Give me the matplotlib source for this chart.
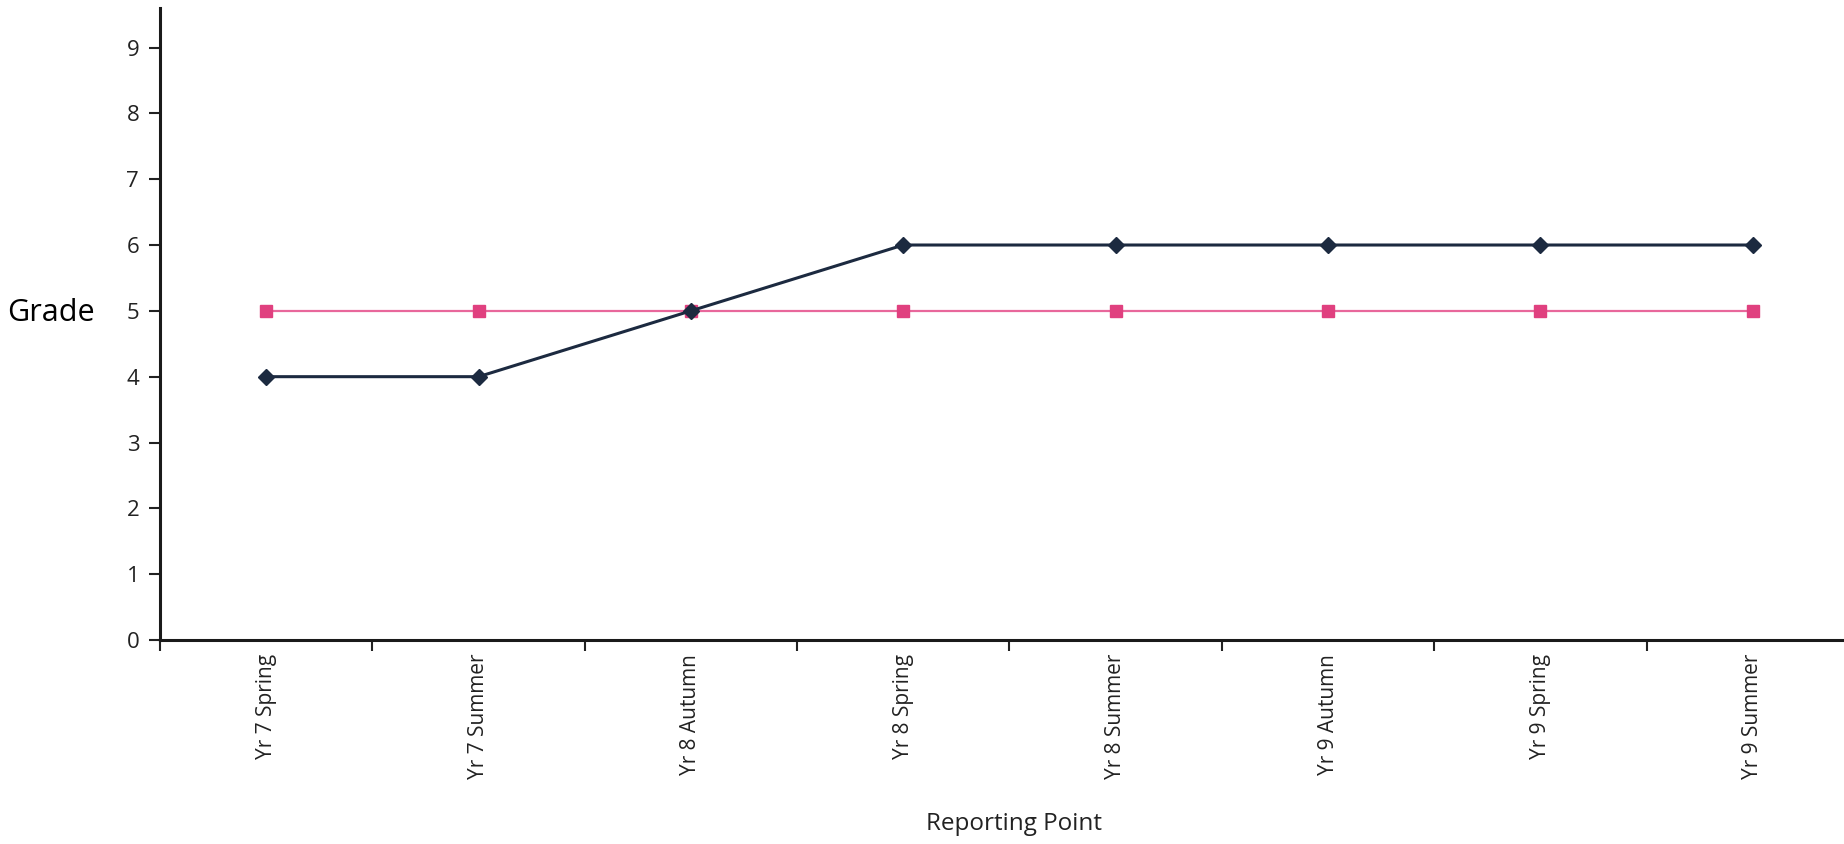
import matplotlib
matplotlib.use('Agg')
import matplotlib.pyplot as plt
from matplotlib.ticker import FixedLocator

# reporting points and grades
points = ['Yr 7 Spring', 'Yr 7 Summer', 'Yr 8 Autumn', 'Yr 8 Spring',
          'Yr 8 Summer', 'Yr 9 Autumn', 'Yr 9 Spring', 'Yr 9 Summer']
actual = [4, 4, 5, 6, 6, 6, 6, 6]
target = [5, 5, 5, 5, 5, 5, 5, 5]
y_ticks = list(range(0, 10))

plt.rcParams['font.family'] = ['Open Sans', 'DejaVu Sans']

fig = plt.figure(figsize=(18.44, 8.44), dpi=100)
ax = fig.add_axes([0.0868, 0.2417, 0.9213, 0.7488])

x = list(range(len(points)))
ax.plot(x, target, color='#e8679b', lw=1.6, marker='s', markersize=8,
        markerfacecolor='#e0407f', markeredgecolor='#e0407f', zorder=2)
ax.plot(x, actual, color='#1c2a40', lw=2.2, marker='D', markersize=8,
        markerfacecolor='#1c2a40', markeredgecolor='#1c2a40', zorder=3)

ax.set_xlim(-0.5, len(points) - 0.5)
ax.set_ylim(0, 9.6)

# labels at the category centres, tick marks at the boundaries
ax.set_xticks(x)
ax.set_xticklabels(points, rotation=90, fontsize=15, color='#222222')
ax.tick_params(axis='x', which='major', length=0, pad=10)
ax.xaxis.set_minor_locator(FixedLocator([i - 0.5 for i in range(len(points) + 1)]))
ax.tick_params(axis='x', which='minor', length=8, width=1.5, direction='out', color='#222222')

ax.set_yticks(y_ticks)
ax.tick_params(axis='y', length=8, width=1.5, direction='out', labelsize=16,
               colors='#222222', pad=7)

for side in ['top', 'right']:
    ax.spines[side].set_visible(False)
for side in ['left', 'bottom']:
    ax.spines[side].set_linewidth(2.2)
    ax.spines[side].set_color('#1a1a1a')

fig.text(0.004, 0.629, 'Grade', fontsize=22, va='center', ha='left', color='black')
fig.text(0.55, 0.0166, 'Reporting Point', fontsize=17.5, va='baseline', ha='center', color='#222222')

fig.savefig('out.png', dpi=100)
